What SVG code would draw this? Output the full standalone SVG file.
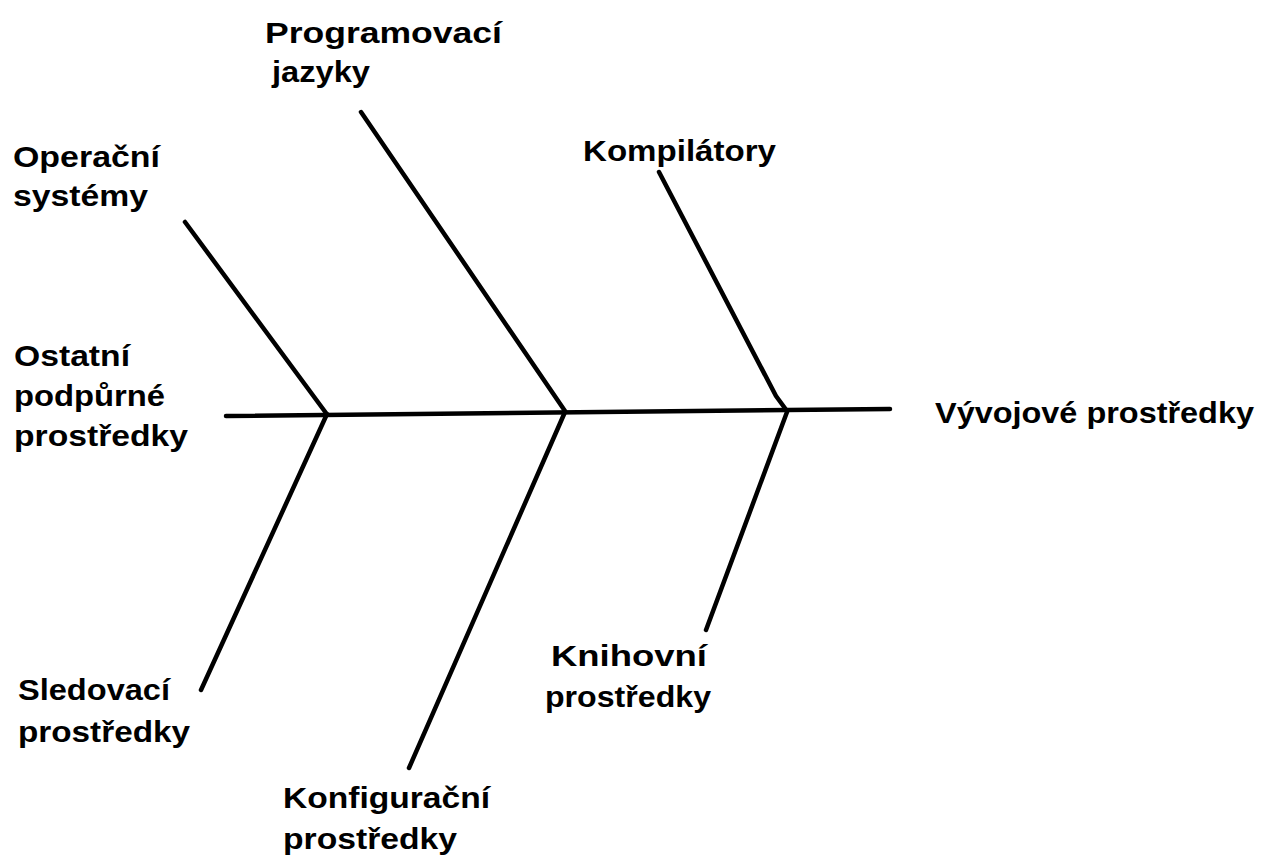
<svg xmlns="http://www.w3.org/2000/svg" width="1269" height="856" viewBox="0 0 1269 856">
<style>
.t{font-family:"Liberation Sans",Arial,sans-serif;font-weight:bold;font-size:30px;fill:#000}
.l{stroke:#000;stroke-width:4.5;fill:none;stroke-linecap:round;stroke-linejoin:round}
</style>
<rect width="1269" height="856" fill="#fff"/>
<g id="connectors">
<path class="l" d="M226,416 L890,409"/>
<path class="l" d="M185,222 L326,413"/>
<path class="l" d="M361,112 L565,411"/>
<path class="l" d="M659,172 L776,396 L787,411"/>
<path class="l" d="M327,414 L201,690"/>
<path class="l" d="M565,412 L409,768"/>
<path class="l" d="M787,412 L706,630"/>
</g>
<g id="effect"><text class="t" x="935" y="423" textLength="319" lengthAdjust="spacingAndGlyphs">Vývojové prostředky</text></g>
<g id="programovaci"><text class="t" x="265" y="43" textLength="237" lengthAdjust="spacingAndGlyphs">Programovací</text><text class="t" x="272" y="82" textLength="98" lengthAdjust="spacingAndGlyphs">jazyky</text></g>
<g id="operacni"><text class="t" x="13" y="167" textLength="147" lengthAdjust="spacingAndGlyphs">Operační</text><text class="t" x="13" y="206" textLength="135" lengthAdjust="spacingAndGlyphs">systémy</text></g>
<g id="kompilatory"><text class="t" x="583" y="161" textLength="193" lengthAdjust="spacingAndGlyphs">Kompilátory</text></g>
<g id="ostatni"><text class="t" x="14" y="366" textLength="116" lengthAdjust="spacingAndGlyphs">Ostatní</text><text class="t" x="14" y="406" textLength="151" lengthAdjust="spacingAndGlyphs">podpůrné</text><text class="t" x="14" y="446" textLength="174" lengthAdjust="spacingAndGlyphs">prostředky</text></g>
<g id="sledovaci"><text class="t" x="18" y="700" textLength="152" lengthAdjust="spacingAndGlyphs">Sledovací</text><text class="t" x="18" y="742" textLength="172" lengthAdjust="spacingAndGlyphs">prostředky</text></g>
<g id="knihovni"><text class="t" x="551" y="666" textLength="156" lengthAdjust="spacingAndGlyphs">Knihovní</text><text class="t" x="545" y="707" textLength="166" lengthAdjust="spacingAndGlyphs">prostředky</text></g>
<g id="konfiguracni"><text class="t" x="283" y="808" textLength="207" lengthAdjust="spacingAndGlyphs">Konfigurační</text><text class="t" x="283" y="849" textLength="174" lengthAdjust="spacingAndGlyphs">prostředky</text></g>
</svg>
